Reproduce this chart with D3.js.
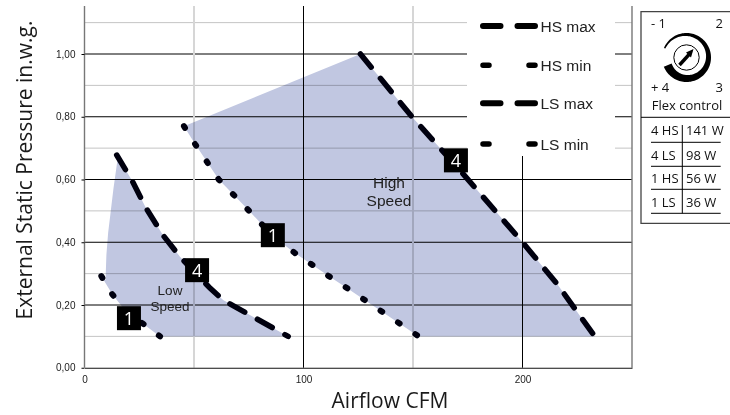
<!DOCTYPE html>
<html>
<head>
<meta charset="utf-8">
<script src="https://cdn.jsdelivr.net/npm/d3@7"></script>
<style>
  html, body { margin: 0; padding: 0; background: #fff; }
  svg { display: block; }
  text { font-family: "Liberation Sans", Arial, sans-serif; }
  text.myriad { font-family: "Open Sans", sans-serif; }
</style>
</head>
<body>
<svg id="chart" width="730" height="415"></svg>
<script>
// Fan curves, values: [CFM, in.w.g.]
const hsMax = [[126, 1.0], [149.5, 0.80], [172, 0.625], [200, 0.40], [216, 0.265], [233, 0.10]];
const hsMin = [[45.4, 0.77], [50.5, 0.713], [61.3, 0.60], [74.5, 0.505], [86, 0.42], [96, 0.366], [112, 0.29], [120.3, 0.252], [152.6, 0.10]];
const lsMax = [[14.7, 0.678], [21.6, 0.598], [28, 0.51], [35.8, 0.423], [43.6, 0.354], [57.3, 0.254], [63.3, 0.216], [75.5, 0.168], [93, 0.10]];
const lsMin = [[7.7, 0.292], [12.7, 0.234], [20, 0.17], [26.4, 0.142], [34.5, 0.10]];
const lowLeftEdge = [[15, 0.66], [13.2, 0.57], [12, 0.50], [10.8, 0.43], [10, 0.36], [9.7, 0.30], [9.7, 0.28]];

const xTicks = [0, 100, 200];
const yTicks = [0, 0.2, 0.4, 0.6, 0.8, 1.0];
const yMinor = [0.1, 0.3, 0.5, 0.7, 0.9, 1.1];
const xMinor = [50, 150];

const legendNames = ['HS max', 'HS min', 'LS max', 'LS min'];
const powerRows = [['4 HS', '141 W'], ['4 LS', '98 W'], ['1 HS', '56 W'], ['1 LS', '36 W']];

const badgeLabels = ['1', '1', '4', '4'];
const badgeX = [20.3, 86, 51.4, 169.6];
const badgeY = [0.158, 0.4225, 0.311, 0.661];

const x = d3.scaleLinear().domain([0, 250]).range([84.5, 632]);
const y = d3.scaleLinear().domain([0, 1]).range([367.75, 54]);
const plotTop = 6;

const svg = d3.select('#chart');

// grid
const grid = svg.append('g');
grid.selectAll('.hminor').data(yMinor).join('line')
  .attr('x1', x(0)).attr('x2', x(250))
  .attr('y1', d => y(d)).attr('y2', d => y(d))
  .attr('stroke', '#c4c4c4');
grid.selectAll('.hmajor').data(yTicks.slice(1)).join('line')
  .attr('x1', x(0)).attr('x2', x(250))
  .attr('y1', d => y(d)).attr('y2', d => y(d))
  .attr('stroke', '#000');
grid.selectAll('.vminor').data(xMinor).join('line')
  .attr('x1', d => x(d)).attr('x2', d => x(d))
  .attr('y1', plotTop).attr('y2', y(0))
  .attr('stroke', '#d6d6d6').attr('stroke-width', 2);
grid.selectAll('.vmajor').data([100, 200]).join('line')
  .attr('x1', d => x(d)).attr('x2', d => x(d))
  .attr('y1', plotTop).attr('y2', y(0))
  .attr('stroke', '#000');
grid.selectAll('.vframe').data([0, 250]).join('line')
  .attr('x1', d => x(d)).attr('x2', d => x(d))
  .attr('y1', plotTop).attr('y2', y(0))
  .attr('stroke', '#777').attr('stroke-width', 1.4);

// shaded operating areas, grid shows through
const areaPath = d3.line().x(d => x(d[0])).y(d => y(d[1]));
const lowArea = lsMax.concat(lsMin.slice().reverse(), lowLeftEdge.slice().reverse());
const highArea = hsMax.concat(hsMin.slice().reverse());
svg.selectAll('.area').data([lowArea, highArea]).join('path')
  .attr('d', areaPath)
  .attr('fill', '#c1c7e1')
  .style('mix-blend-mode', 'multiply');

// white box behind the legend hides the grid
svg.append('rect').attr('x', 467).attr('y', 0).attr('width', 148).attr('height', 156).attr('fill', '#fff');

// x axis
const xAxis = svg.append('g').attr('transform', `translate(0,${y(0)})`)
  .call(d3.axisBottom(x).tickValues(xTicks).tickSize(0).tickPadding(8).tickFormat(d3.format('d')));
xAxis.select('.domain').attr('stroke', '#111').attr('stroke-width', 1.2);
xAxis.selectAll('text').attr('font-size', 10).attr('font-family', '"Liberation Sans"').attr('fill', '#222');

// y axis
const yAxis = svg.append('g').attr('transform', `translate(${x(0)},0)`)
  .call(d3.axisLeft(y).tickValues(yTicks).tickSize(3).tickPadding(6).tickFormat(d => d3.format('.2f')(d).replace('.', ',')));
yAxis.select('.domain').remove();
yAxis.selectAll('text').attr('font-size', 10).attr('font-family', '"Liberation Sans"').attr('fill', '#222');

// curves
const curve = d3.line().x(d => x(d[0])).y(d => y(d[1]));
const maxDash = '17 14.5', minDash = '2 19';
[[hsMax, maxDash], [lsMax, maxDash], [hsMin, minDash], [lsMin, minDash]].forEach(([s, dash]) => {
  svg.append('path').attr('d', curve(s))
    .attr('fill', 'none').attr('stroke', '#00000f')
    .attr('stroke-width', dash === maxDash ? 5.5 : 6)
    .attr('stroke-linecap', 'round').attr('stroke-dasharray', dash);
});

// numbered badges
badgeLabels.forEach((t, i) => {
  const g = svg.append('g').attr('transform', `translate(${x(badgeX[i])},${y(badgeY[i])})`);
  g.append('rect').attr('x', -12).attr('y', -12).attr('width', 24).attr('height', 24).attr('fill', '#000');
  g.append('text').attr('class', 'myriad').attr('text-anchor', 'middle').attr('y', 6.5)
    .attr('font-size', 18).attr('fill', '#fff').text(t);
});

// area labels
[['Low', 295], ['Speed', 310.7]].forEach(([t, py]) => {
  svg.append('text').attr('x', 170).attr('y', py).attr('text-anchor', 'middle')
    .attr('font-size', 13.5).attr('fill', '#222').text(t);
});
[['High', 187.7], ['Speed', 205.7]].forEach(([t, py]) => {
  svg.append('text').attr('x', 389).attr('y', py).attr('text-anchor', 'middle')
    .attr('font-size', 15.5).attr('fill', '#222').text(t);
});

// axis titles
svg.append('text').attr('class', 'myriad').attr('x', 390).attr('y', 408).attr('text-anchor', 'middle')
  .attr('font-size', 21).attr('fill', '#1a1a1a').text('Airflow CFM');
svg.append('text').attr('class', 'myriad').attr('transform', 'translate(32,170) rotate(-90)')
  .attr('text-anchor', 'middle').attr('font-size', 21).attr('fill', '#1a1a1a').text('External Static Pressure in.w.g.');

// legend
const legendY = [26, 65.3, 103.3, 144];
legendNames.forEach((name, i) => {
  const isMax = name.endsWith('max');
  svg.append('line').attr('x1', 483).attr('x2', 535).attr('y1', legendY[i]).attr('y2', legendY[i])
    .attr('stroke', '#000').attr('stroke-width', isMax ? 6 : 5.5).attr('stroke-linecap', 'round')
    .attr('stroke-dasharray', isMax ? '17.5 17' : '6 40');
  svg.append('text').attr('x', 540.5).attr('y', legendY[i] + 5.5).attr('font-size', 15.5).attr('fill', '#222').text(name);
});

// flex control panel, runs off the right edge
const panel = svg.append('g');
panel.append('path').attr('d', 'M732,11.7H641V223.3H732')
  .attr('fill', 'none').attr('stroke', '#444').attr('stroke-width', 1.3);
panel.append('line').attr('x1', 641).attr('x2', 730).attr('y1', 117.3).attr('y2', 117.3).attr('stroke', '#000');

const panelText = (t, px, py, anchor) => panel.append('text').attr('class', 'myriad')
  .attr('x', px).attr('y', py).attr('text-anchor', anchor || 'start')
  .attr('font-size', 13).attr('fill', '#111').text(t);
panelText('- 1', 651, 27.7);
panelText('2', 723, 27.7, 'end');
panelText('+ 4', 651, 92);
panelText('3', 723, 92, 'end');
panelText('Flex control', 687, 110, 'middle');

// dial: tapered ring, inner circle and pointer
const dial = panel.append('g').attr('transform', 'translate(686.5,57.5)');
const ringAngles = d3.range(-67, 249, 3);
const ring = d3.areaRadial()
  .angle(d => d * Math.PI / 180)
  .innerRadius(d => 23 - 7 * (d + 67) / 315)
  .outerRadius(24.5);
dial.append('path').attr('d', ring(ringAngles)).attr('fill', '#000');
dial.append('circle').attr('r', 12.7).attr('fill', 'none').attr('stroke', '#000').attr('stroke-width', 1);
dial.append('line').attr('x1', -7).attr('y1', 7.5).attr('x2', 3).attr('y2', -3.5)
  .attr('stroke', '#000').attr('stroke-width', 3.4);
dial.append('path').attr('d', 'M7,-8.5L-0.5,-5L4.5,0Z').attr('fill', '#000');

// power table
const rowBase = [135, 160, 183, 206.7];
const ruleY = [142.3, 166.3, 189.3, 213.3];
powerRows.forEach((r, i) => {
  panelText(r[0], 651, rowBase[i]);
  panelText(r[1], 686, rowBase[i]);
});
panel.selectAll('.rule').data(ruleY).join('line')
  .attr('x1', 651).attr('x2', 720.7).attr('y1', d => d).attr('y2', d => d)
  .attr('stroke', '#000');
panel.append('line').attr('x1', 682.3).attr('x2', 682.3).attr('y1', 125).attr('y2', 213.3).attr('stroke', '#000');
</script>
</body>
</html>
